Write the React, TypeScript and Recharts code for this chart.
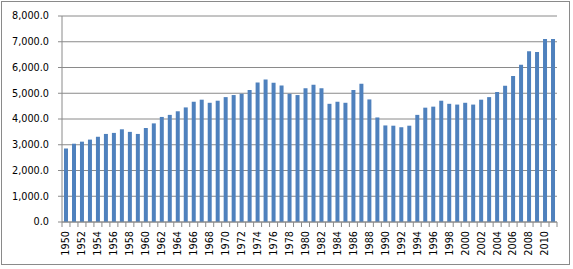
import React from "react";
import { BarChart, Bar, XAxis, YAxis, CartesianGrid } from "recharts";

const years: string[] = [
  "1950","1951","1952","1953","1954","1955","1956","1957","1958","1959",
  "1960","1961","1962","1963","1964","1965","1966","1967","1968","1969",
  "1970","1971","1972","1973","1974","1975","1976","1977","1978","1979",
  "1980","1981","1982","1983","1984","1985","1986","1987","1988","1989",
  "1990","1991","1992","1993","1994","1995","1996","1997","1998","1999",
  "2000","2001","2002","2003","2004","2005","2006","2007","2008","2009",
  "2010","2011",
];

const values: number[] = [
  2850, 3040, 3120, 3200, 3310, 3420, 3460, 3600, 3500, 3420,
  3650, 3830, 4080, 4160, 4300, 4450, 4670, 4750, 4630, 4710,
  4850, 4930, 4980, 5130, 5420, 5530, 5410, 5300, 4980, 4930,
  5190, 5330, 5190, 4590, 4670, 4630, 5130, 5370, 4760, 4060,
  3750, 3740, 3680, 3740, 4160, 4440, 4480, 4710, 4590, 4560,
  4630, 4560, 4750, 4850, 5050, 5290, 5670, 6110, 6630, 6600,
  7110, 7110,
];

const yTicks: number[] = [0, 1000, 2000, 3000, 4000, 5000, 6000, 7000, 8000];

const data = years.map((y, i) => ({ year: y, value: values[i] }));

const FONT = "'DejaVu Sans', Verdana, sans-serif";
const GRID = "#8a8a8a";

const fmt = (v: number) =>
  v.toLocaleString("en-US", { minimumFractionDigits: 1, maximumFractionDigits: 1 });

const XTick = (props: any) => {
  const { x, y, payload, index } = props;
  const half = payload && payload.offset ? payload.offset : 4;
  const axisY = y - 9;
  return (
    <g>
      {index === 0 && (
        <line x1={x - half} x2={x - half} y1={axisY} y2={axisY + 5} stroke={GRID} />
      )}
      <line x1={x + half} x2={x + half} y1={axisY} y2={axisY + 5} stroke={GRID} />
      {index % 2 === 0 && (
        <text
          x={x}
          y={y}
          transform={`rotate(-90, ${x}, ${y})`}
          textAnchor="end"
          dy="0.35em"
          fontFamily={FONT}
          fontSize={9.7}
          fill="#000"
        >
          {payload.value}
        </text>
      )}
    </g>
  );
};

export default function App() {
  return (
    <div style={{ position: "absolute", left: 0, top: 0, width: 573, height: 269, background: "#fff" }}>
      <div
        style={{
          position: "absolute",
          left: 1,
          top: 1,
          width: 567,
          height: 262,
          border: "1px solid #8a8a8a",
        }}
      />
      <div style={{ position: "absolute", left: 0, top: 0 }}>
        <BarChart
          width={573}
          height={269}
          data={data}
          margin={{ top: 16, right: 16, bottom: 0, left: 0 }}
          barCategoryGap="25%"
        >
          <CartesianGrid vertical={false} stroke={GRID} strokeWidth={1} />
          <XAxis
            dataKey="year"
            interval={0}
            height={47}
            tickLine={false}
            tickSize={5}
            tickMargin={4}
            axisLine={{ stroke: GRID }}
            tick={<XTick />}
          />
          <YAxis
            width={62}
            domain={[0, 8000]}
            ticks={yTicks}
            tickFormatter={fmt}
            tickSize={4}
            tickMargin={9}
            axisLine={{ stroke: GRID }}
            tickLine={{ stroke: GRID }}
            tick={{ fontFamily: FONT, fontSize: 9.7, fill: "#000" }}
          />
          <Bar dataKey="value" fill="#4F81BD" isAnimationActive={false} />
        </BarChart>
      </div>
    </div>
  );
}
